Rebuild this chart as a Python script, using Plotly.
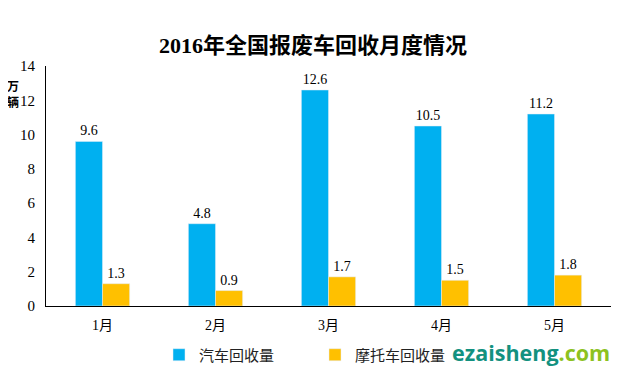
import plotly.graph_objects as go

months = ["1月", "2月", "3月", "4月", "5月"]
cars = [9.6, 4.8, 12.6, 10.5, 11.2]
motos = [1.3, 0.9, 1.7, 1.5, 1.8]
y_ticks = [0, 2, 4, 6, 8, 10, 12, 14]

serif = "Liberation Serif, Times New Roman, Noto Sans CJK SC, serif"
sans = "Noto Sans CJK SC, sans-serif"

fig = go.Figure()
fig.add_trace(go.Bar(name="汽车回收量", x=months, y=cars, marker_color="#00B0F0",
                     text=[f"{v:.1f}" for v in cars], textposition="outside",
                     textfont=dict(family=serif, size=14, color="#000"), cliponaxis=False))
fig.add_trace(go.Bar(name="摩托车回收量", x=months, y=motos, marker_color="#FFC000",
                     text=[f"{v:.1f}" for v in motos], textposition="outside",
                     textfont=dict(family=serif, size=14, color="#000"), cliponaxis=False))

# page body has an 8px default margin, so the figure is sized to fit the window
fig.update_layout(
    width=620, height=365,
    margin=dict(l=38, r=17, t=58, b=67, autoexpand=False),
    paper_bgcolor="white", plot_bgcolor="white",
    barmode="group", bargap=0.52, bargroupgap=0,
    title=dict(text="<b>2016年全国报废车回收月度情况</b>", x=0.492, xanchor="center",
               y=0.899, yanchor="middle", font=dict(family=serif, size=22, color="#000")),
    showlegend=True,
    legend=dict(orientation="h", x=0.2, y=-0.204, xanchor="left", yanchor="middle",
                font=dict(family=sans, size=15, color="#222"), itemwidth=30,
                traceorder="normal", entrywidthmode="pixels", entrywidth=111),
    xaxis=dict(showline=True, linecolor="#000", linewidth=1, ticks="",
               ticklabelstandoff=6,
               tickfont=dict(family=serif, size=14, color="#000"), showgrid=False),
    yaxis=dict(range=[0, 14], tickvals=y_ticks, showline=True, linecolor="#000", linewidth=1,
               ticks="", showgrid=False, zeroline=False, ticklabelstandoff=7,
               tickfont=dict(family=serif, size=15, color="#000")),
)
fig.add_annotation(text="<b>万<br>辆</b>", xref="paper", yref="paper", x=-0.0465, y=0.884,
                   xanchor="right", yanchor="middle", showarrow=False, align="center",
                   borderpad=0, font=dict(family=sans, size=12, color="#000"))
fig.add_annotation(text="<b><span style='color:#13917F'>ezaisheng</span><span style='color:#8DC21F'>.com</span></b>",
                   xref="paper", yref="paper", x=1.002, y=-0.192, xanchor="right", yanchor="middle",
                   showarrow=False, font=dict(family="Open Sans, sans-serif", size=21.5))

fig.write_html("out.html")
